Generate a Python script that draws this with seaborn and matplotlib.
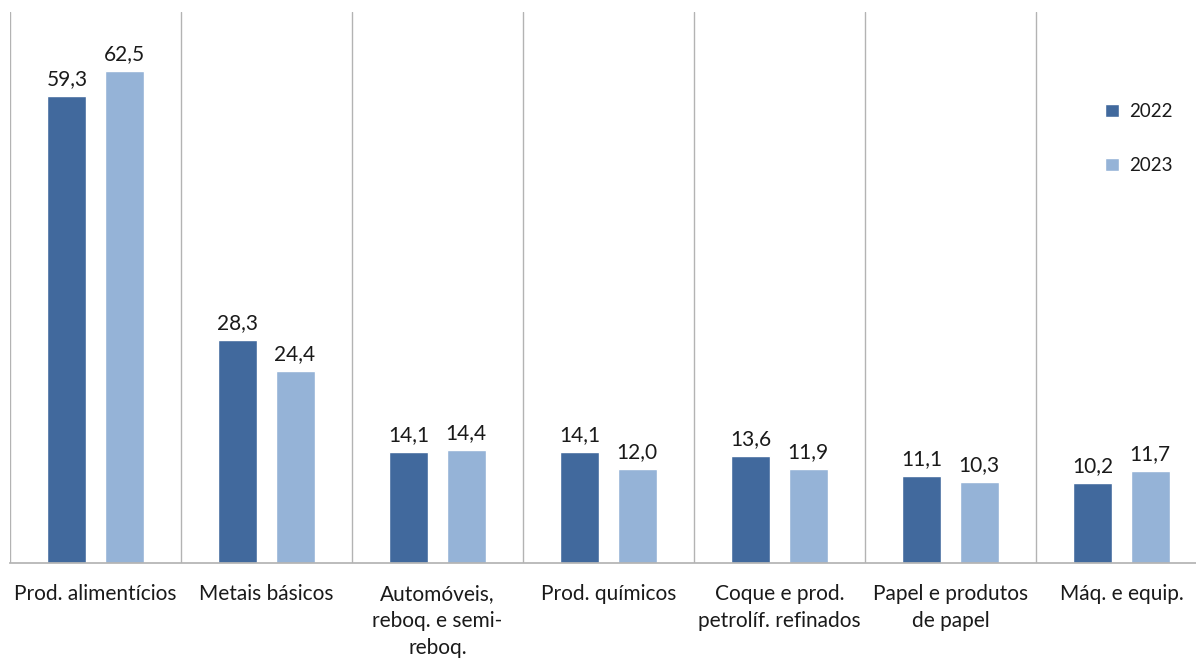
import matplotlib
matplotlib.use("Agg")
import matplotlib.pyplot as plt
import seaborn as sns
import pandas as pd

categories = ["Prod. alimentícios", "Metais básicos", "Automóveis,\nreboq. e semi-\nreboq.",
              "Prod. químicos", "Coque e prod.\npetrolíf. refinados", "Papel e produtos\nde papel",
              "Máq. e equip."]
values_2022 = [59.3, 28.3, 14.1, 14.1, 13.6, 11.1, 10.2]
values_2023 = [62.5, 24.4, 14.4, 12.0, 11.9, 10.3, 11.7]
series = ["2022", "2023"]
colors = ["#41699d", "#95b3d7"]

df = pd.DataFrame({
    "cat": categories * 2,
    "val": values_2022 + values_2023,
    "ano": [series[0]] * len(categories) + [series[1]] * len(categories),
})

sns.set_theme(style="white")
plt.rcParams["font.family"] = ["Lato", "DejaVu Sans"]

fig = plt.figure(figsize=(11.96, 6.58), dpi=100)
ax = fig.add_axes([10 / 1196, 1 - 563 / 658, 1197 / 1196, (563 - 12) / 658])

sns.barplot(data=df, x="cat", y="val", hue="ano", palette=colors, width=0.667, gap=0.316,
            saturation=1, ax=ax, order=categories, hue_order=series)

for cont in ax.containers:
    ax.bar_label(cont, labels=[f"{v:.1f}".replace(".", ",") for v in cont.datavalues],
                 padding=5, fontsize=15, color="#1a1a1a")

ax.set_ylim(0, 70)
ax.set_xlim(-0.5, 6.5)
ax.set_xlabel("")
ax.set_ylabel("")
ax.set_yticks([])
for x in range(0, 7):
    ax.axvline(x - 0.5, color="#b3b3b3", lw=1, zorder=0)
for s in ["top", "right", "left"]:
    ax.spines[s].set_visible(False)
ax.spines["bottom"].set_color("#b3b3b3")
ax.tick_params(axis="x", length=0, pad=15)
for t in ax.get_xticklabels():
    t.set_fontsize(15)
    t.set_linespacing(1.45)
    t.set_verticalalignment("top")
    t.set_color("#1a1a1a")

leg = ax.legend(loc="upper left", bbox_to_anchor=((1096 - 10) / 1197, (563 - 94) / 551),
                frameon=False, fontsize=13.5, handlelength=0.7, handleheight=0.7,
                labelspacing=1.95, handletextpad=0.55, borderpad=0)
for txt in leg.get_texts():
    txt.set_color("#1a1a1a")

fig.savefig("out.png", dpi=100)
